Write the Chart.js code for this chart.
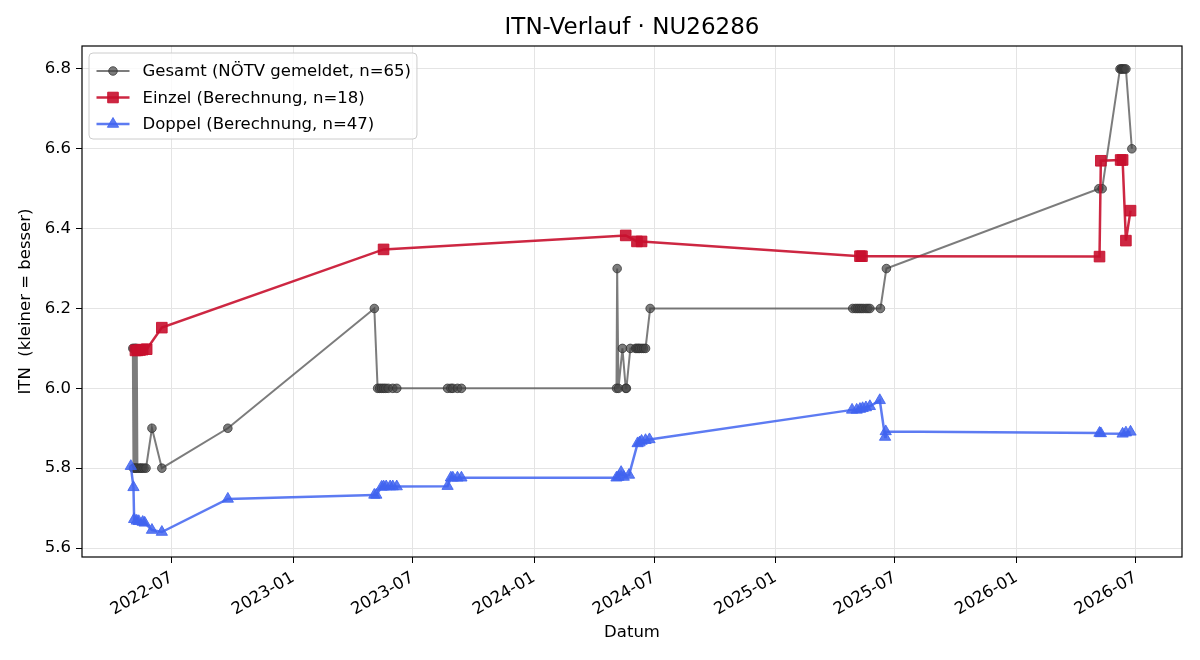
<!DOCTYPE html>
<html>
<head>
<meta charset="utf-8">
<title>ITN-Verlauf · NU26286</title>
<script src="https://cdn.jsdelivr.net/npm/chart.js@4.4.1/dist/chart.umd.min.js"></script>
<style>
    html, body { margin: 0; padding: 0; background: #fff; }
    #wrap { width: 1200px; height: 660px; }
</style>
</head>
<body>
<div id="wrap"><canvas id="chart" width="1200" height="660"></canvas></div>
<script>
// ── Daten ─────────────────────────────────────
const gesamtDates = [
    '2022-05-03','2022-05-04','2022-05-05','2022-05-06','2022-05-07','2022-05-08','2022-05-09','2022-05-10',
    '2022-05-13','2022-05-15','2022-05-17','2022-05-20','2022-05-23','2022-06-01','2022-06-16','2022-09-24',
    '2023-05-04','2023-05-09','2023-05-12','2023-05-15','2023-05-18','2023-05-21','2023-05-25','2023-06-01',
    '2023-06-07','2023-08-23','2023-08-28','2023-08-31','2023-09-07','2023-09-13',
    '2024-05-05','2024-05-06','2024-05-08','2024-05-14','2024-05-19','2024-05-20','2024-05-26','2024-06-03',
    '2024-06-05','2024-06-07','2024-06-09','2024-06-12','2024-06-15','2024-06-18','2024-06-25',
    '2025-04-28','2025-05-02','2025-05-05','2025-05-08','2025-05-11','2025-05-14','2025-05-18','2025-05-21',
    '2025-05-24','2025-06-09','2025-06-18',
    '2026-05-06','2026-05-11','2026-06-07','2026-06-09','2026-06-10','2026-06-12','2026-06-14','2026-06-16',
    '2026-06-25'
];
const gesamtITN = [
    6.1, 5.8, 6.1, 5.8, 6.1, 5.8, 6.1, 5.8,
    5.8, 5.8, 5.8, 5.8, 5.8, 5.9, 5.8, 5.9,
    6.2, 6.0, 6.0, 6.0, 6.0, 6.0, 6.0, 6.0,
    6.0, 6.0, 6.0, 6.0, 6.0, 6.0,
    6.0, 6.3, 6.0, 6.1, 6.0, 6.0, 6.1, 6.1,
    6.1, 6.1, 6.1, 6.1, 6.1, 6.1, 6.2,
    6.2, 6.2, 6.2, 6.2, 6.2, 6.2, 6.2, 6.2,
    6.2, 6.2, 6.3,
    6.5, 6.5, 6.8, 6.8, 6.8, 6.8, 6.8, 6.8,
    6.6
];

const einzelDates = [
    '2022-05-07','2022-05-10','2022-05-14','2022-05-18','2022-05-24','2022-06-16',
    '2023-05-18',
    '2024-05-19','2024-06-05','2024-06-12',
    '2025-05-09','2025-05-12',
    '2026-05-07','2026-05-09','2026-06-08','2026-06-11','2026-06-16','2026-06-23'
];
const einzelITN = [
    6.095, 6.095, 6.096, 6.097, 6.098, 6.152,
    6.348,
    6.383, 6.368, 6.368,
    6.331, 6.331,
    6.330, 6.570, 6.572, 6.572, 6.370, 6.445
];

const doppelDates = [
    '2022-04-30','2022-05-04','2022-05-05','2022-05-09','2022-05-12','2022-05-18','2022-05-21','2022-06-01',
    '2022-06-16','2022-09-24',
    '2023-05-04','2023-05-07','2023-05-15','2023-05-18','2023-05-22','2023-05-28','2023-06-01','2023-06-07',
    '2023-08-23','2023-08-28','2023-08-31','2023-09-07','2023-09-13',
    '2024-05-05','2024-05-08','2024-05-12','2024-05-16','2024-05-24','2024-06-06','2024-06-09','2024-06-12',
    '2024-06-18','2024-06-24',
    '2025-04-27','2025-05-04','2025-05-09','2025-05-13','2025-05-18','2025-05-24','2025-06-08','2025-06-16',
    '2025-06-17',
    '2026-05-07','2026-05-09','2026-06-11','2026-06-16','2026-06-23'
];
const doppelITN = [
    5.805, 5.752, 5.672, 5.668, 5.667, 5.665, 5.663, 5.645,
    5.640, 5.723,
    5.733, 5.733, 5.753, 5.754, 5.754, 5.754, 5.754, 5.754,
    5.755, 5.776, 5.776, 5.776, 5.776,
    5.776, 5.778, 5.790, 5.778, 5.783, 5.862, 5.864, 5.868,
    5.870, 5.872,
    5.946, 5.946, 5.948, 5.950, 5.952, 5.955, 5.970, 5.878,
    5.892,
    5.888, 5.887, 5.886, 5.889, 5.891
];

const xTickLabels = ['2022-07','2023-01','2023-07','2024-01','2024-07','2025-01','2025-07','2026-01','2026-07'];
const yTicks      = [5.6, 5.8, 6.0, 6.2, 6.4, 6.6, 6.8];
const xRange      = ['2022-02-15', '2026-09-09'];
const yRange      = [5.5775, 6.8575];

// ── Helpers ───────────────────────────────────
const toTime = s => Date.parse(s.length === 7 ? s + '-01' : s);
const zip = (dates, vals) => dates.map((d, i) => ({ x: toTime(d), y: vals[i] }));

const FONT = 'DejaVu Sans';
Chart.defaults.font.family = FONT;
Chart.defaults.color = '#000';

// Rahmen, Legende und Titel im matplotlib-Stil
const mplDecor = {
    id: 'mplDecor',
    afterDatasetsDraw(chart) {
        const { ctx, chartArea: ca } = chart;
        ctx.save();
        ctx.strokeStyle = '#000';
        ctx.lineWidth = 1.2;
        ctx.strokeRect(ca.left, ca.top, ca.right - ca.left, ca.bottom - ca.top);

        // Legende
        const fs = 16.5;
        ctx.font = `${fs}px "${FONT}"`;
        const sets = chart.data.datasets;
        const maxW = Math.max(...sets.map(d => ctx.measureText(d.label).width));
        const bx = ca.left + 7, by = ca.top + 7;
        const bw = 6.7 + 33 + 13 + maxW + 6.7, bh = 86;
        ctx.beginPath();
        ctx.roundRect(bx, by, bw, bh, 4);
        ctx.fillStyle = 'rgba(255,255,255,0.8)';
        ctx.fill();
        ctx.strokeStyle = '#cccccc';
        ctx.lineWidth = 1;
        ctx.stroke();

        sets.forEach((d, i) => {
            const cy = by + 18 + i * 26.5;
            const x0 = bx + 7.5, x1 = x0 + 33;
            ctx.beginPath();
            ctx.moveTo(x0, cy);
            ctx.lineTo(x1, cy);
            ctx.strokeStyle = d.borderColor;
            ctx.lineWidth = d.borderWidth;
            ctx.stroke();
            ctx.fillStyle = d.pointBackgroundColor;
            ctx.strokeStyle = d.pointBorderColor;
            ctx.lineWidth = d.pointBorderWidth;
            Chart.helpers.drawPoint(ctx, {
                pointStyle: d.pointStyle, radius: d.pointRadius,
                borderWidth: d.pointBorderWidth, rotation: 0
            }, (x0 + x1) / 2, cy);
            ctx.fillStyle = '#000';
            ctx.textAlign = 'left';
            ctx.textBaseline = 'middle';
            ctx.fillText(d.label, x1 + 13, cy + 1);
        });

        // Titel
        ctx.font = `23px "${FONT}"`;
        ctx.fillStyle = '#000';
        ctx.textAlign = 'center';
        ctx.textBaseline = 'middle';
        ctx.fillText('ITN-Verlauf · NU26286', (ca.left + ca.right) / 2, 28);
        ctx.restore();
    }
};

const gridOpts = { color: '#e4e4e4', lineWidth: 1, tickLength: 6, tickColor: '#000', drawTicks: true };

new Chart(document.getElementById('chart'), {
    type: 'line',
    data: {
        datasets: [
            {
                label: 'Gesamt (NÖTV gemeldet, n=65)',
                data: zip(gesamtDates, gesamtITN),
                borderColor: 'rgba(68,68,68,0.7)', borderWidth: 2,
                pointStyle: 'circle', pointRadius: 4.3,
                pointBackgroundColor: 'rgba(68,68,68,0.7)', pointBorderColor: 'rgba(50,50,50,0.75)', pointBorderWidth: 1,
                tension: 0, order: 3
            },
            {
                label: 'Einzel (Berechnung, n=18)',
                data: zip(einzelDates, einzelITN),
                borderColor: 'rgba(200,16,46,0.9)', borderWidth: 2.5,
                pointStyle: 'rect', pointRadius: 7.5,
                pointBackgroundColor: 'rgba(200,16,46,0.9)', pointBorderColor: 'rgba(200,16,46,0.9)', pointBorderWidth: 1,
                tension: 0, order: 2
            },
            {
                label: 'Doppel (Berechnung, n=47)',
                data: zip(doppelDates, doppelITN),
                borderColor: 'rgba(65,100,240,0.85)', borderWidth: 2.5,
                pointStyle: 'triangle', pointRadius: 6.5,
                pointBackgroundColor: 'rgba(65,100,240,0.85)', pointBorderColor: 'rgba(65,100,240,0.85)', pointBorderWidth: 1,
                tension: 0, order: 1
            }
        ]
    },
    options: {
        responsive: false,
        animation: false,
        layout: { padding: { top: 46, right: 18, bottom: 0, left: 0 } },
        plugins: { legend: { display: false }, title: { display: false }, tooltip: { enabled: false } },
        scales: {
            x: {
                type: 'linear',
                min: toTime(xRange[0]), max: toTime(xRange[1]),
                afterBuildTicks: s => { s.ticks = xTickLabels.map(l => ({ value: toTime(l) })); },
                afterFit: s => { s.height = 103; },
                ticks: {
                    autoSkip: false, minRotation: 30, maxRotation: 30, padding: 5,
                    font: { size: 16.5 }, color: '#000',
                    callback: (v, i) => xTickLabels[i]
                },
                grid: gridOpts,
                border: { display: false },
                title: { display: true, text: 'Datum', font: { size: 16.5 }, color: '#000', padding: { top: 0, bottom: 17 } }
            },
            y: {
                min: yRange[0], max: yRange[1],
                afterBuildTicks: s => { s.ticks = yTicks.map(v => ({ value: v })); },
                afterFit: s => { s.width = 82; },
                ticks: { padding: 5, font: { size: 16.5 }, color: '#000', callback: v => v.toFixed(1) },
                grid: gridOpts,
                border: { display: false },
                title: { display: true, text: 'ITN  (kleiner = besser)', font: { size: 16.5 }, color: '#000', padding: { top: 16, bottom: 0 } }
            }
        }
    },
    plugins: [mplDecor]
});
</script>
</body>
</html>
